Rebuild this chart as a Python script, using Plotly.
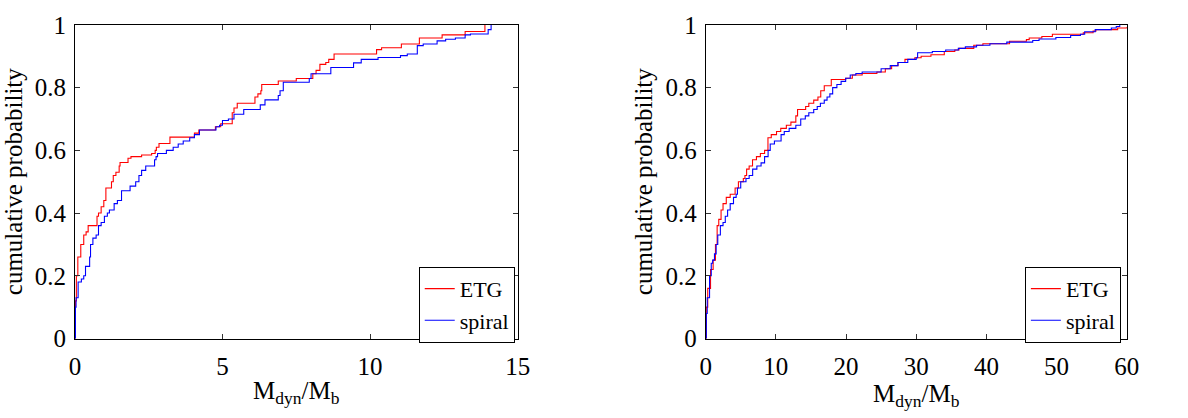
import plotly.graph_objects as go

# ---------------- data ----------------
# Left panel: cumulative probability of M_dyn/M_b (step curves, x = step position, y = level after step)
left_etg_x = [0, 0.02, 0.05, 0.1, 0.2, 0.3, 0.38, 0.45, 0.75, 0.8, 0.89, 0.98, 1.05, 1.24, 1.3, 1.39, 1.5,
              1.53, 1.8, 1.9, 2.26, 2.6, 2.72, 2.76, 2.85, 3.22, 4.05, 4.2, 4.76, 4.94, 5.33, 5.39, 5.5,
              6.1, 6.2, 6.3, 6.33, 6.89, 7.5, 8.06, 8.17, 8.3, 8.5, 8.6, 8.78, 10.22, 10.39, 11.06,
              11.67, 12.44, 13.22, 13.89]
left_etg_y = [0, 0.12, 0.2, 0.26, 0.3, 0.33, 0.34, 0.36, 0.39, 0.40, 0.42, 0.44, 0.48, 0.50, 0.52, 0.53, 0.55,
              0.561, 0.575, 0.58, 0.585, 0.59, 0.60, 0.61, 0.622, 0.642, 0.655, 0.665, 0.675, 0.685, 0.72, 0.735, 0.75,
              0.77, 0.78, 0.79, 0.81, 0.821, 0.829, 0.844, 0.855, 0.874, 0.88, 0.89, 0.907, 0.921, 0.927, 0.939,
              0.958, 0.968, 0.979, 1.0]

left_spiral_x = [0, 0.02, 0.04, 0.11, 0.22, 0.3, 0.36, 0.5, 0.53, 0.61, 0.72, 0.8, 0.89, 1.0, 1.1, 1.17, 1.33,
                 1.44, 1.58, 1.87, 2.06, 2.17, 2.26, 2.4, 2.7, 2.75, 2.8, 3.1, 3.33, 3.5, 3.67, 3.89, 4.05, 4.22,
                 4.78, 4.9, 5.0, 5.2, 5.39, 5.72, 6.28, 6.44, 6.89, 6.95, 7.06, 7.94, 8.0, 8.67, 9.44, 9.7,
                 10.27, 11.03, 11.26, 11.6, 11.8, 12.27, 12.56, 12.89, 13.22, 13.4, 14.0, 14.1]
left_spiral_y = [0, 0.1, 0.13, 0.18, 0.19, 0.2, 0.23, 0.26, 0.3, 0.32, 0.33, 0.36, 0.37, 0.39, 0.40, 0.41, 0.43,
                 0.44, 0.471, 0.486, 0.50, 0.52, 0.536, 0.55, 0.57, 0.58, 0.59, 0.60, 0.61, 0.62, 0.63, 0.64, 0.65, 0.665,
                 0.675, 0.68, 0.695, 0.70, 0.715, 0.73, 0.745, 0.761, 0.775, 0.79, 0.817, 0.829, 0.844, 0.864, 0.879, 0.89,
                 0.896, 0.902, 0.907, 0.934, 0.939, 0.949, 0.954, 0.958, 0.968, 0.971, 0.985, 1.0]

# Right panel
right_etg_x = [0, 0.1, 0.3, 0.7, 1.07, 1.4, 1.64, 1.87, 2.2, 2.48, 2.94, 3.5, 4.2, 4.67, 5.37, 5.6, 5.84, 6.2,
               6.68, 7.24, 7.8, 8.4, 8.88, 9.35, 10.1, 10.7, 11.5, 12.15, 12.85, 13.1, 14.25, 14.7, 15.4, 16.0,
               16.4, 16.9, 17.9, 19.95, 20.9, 22.3, 24.4, 25.6, 26.5, 27.4, 28.4, 29.8, 30.7, 32.1, 34.0, 35.5,
               36.1, 38.2, 39.5, 43.3, 45.7, 46.1, 47.9, 49.4, 53.8, 55.2, 55.6, 58.7, 60]
right_etg_y = [0, 0.1, 0.16, 0.22, 0.25, 0.30, 0.36, 0.38, 0.41, 0.43, 0.45, 0.46, 0.48, 0.50, 0.51, 0.52, 0.54, 0.55,
               0.57, 0.58, 0.59, 0.60, 0.64, 0.65, 0.66, 0.67, 0.68, 0.69, 0.71, 0.73, 0.74, 0.75, 0.76, 0.77,
               0.79, 0.806, 0.826, 0.83, 0.84, 0.845, 0.85, 0.86, 0.87, 0.88, 0.89, 0.895, 0.90, 0.905, 0.915, 0.92,
               0.925, 0.935, 0.94, 0.948, 0.953, 0.958, 0.963, 0.97, 0.975, 0.98, 0.985, 0.99, 0.993]

right_spiral_x = [0, 0.1, 0.23, 0.56, 0.8, 1.0, 1.26, 1.5, 1.73, 2.1, 2.48, 2.8, 3.13, 3.5, 3.97, 4.35, 4.53, 5.0,
                  5.75, 6.2, 6.7, 7.3, 7.9, 8.4, 8.9, 9.2, 9.8, 10.75, 11.2, 11.9, 12.85, 13.55, 14.2, 14.7, 15.4,
                  15.9, 16.35, 16.9, 17.3, 17.7, 18.1, 18.7, 19.3, 19.95, 20.6, 21.4, 22.3, 25.0, 26.3, 27.4, 28.8,
                  30.0, 30.2, 32.3, 34.2, 36.0, 37.0, 38.6, 40.5, 42.9, 46.6, 47.5, 49.9, 52.0, 53.4, 54.0, 55.5,
                  57.8, 58.5, 59.0]
right_spiral_y = [0, 0.08, 0.13, 0.2, 0.24, 0.25, 0.27, 0.30, 0.33, 0.36, 0.37, 0.39, 0.41, 0.43, 0.45, 0.46, 0.48, 0.50,
                  0.51, 0.52, 0.54, 0.55, 0.56, 0.58, 0.60, 0.62, 0.63, 0.65, 0.66, 0.67, 0.68, 0.70, 0.71, 0.72, 0.73,
                  0.74, 0.75, 0.76, 0.77, 0.78, 0.80, 0.81, 0.82, 0.83, 0.84, 0.845, 0.85, 0.86, 0.87, 0.88, 0.89,
                  0.895, 0.911, 0.915, 0.92, 0.925, 0.93, 0.935, 0.94, 0.945, 0.95, 0.955, 0.96, 0.966, 0.97, 0.978, 0.985,
                  0.99, 0.995, 1.0]

series_names = ["ETG", "spiral"]
series_colors = ["#ff0000", "#0000ff"]
y_tickvals = [0, 0.2, 0.4, 0.6, 0.8, 1]
x_title = "M<sub>dyn</sub>/M<sub>b</sub>"
y_title = "cumulative probability"

FONT = "Liberation Serif"
W, H = 1188, 418

fig = go.Figure()
panels = [
    ("x", "y", "legend", [(left_etg_x, left_etg_y), (left_spiral_x, left_spiral_y)]),
    ("x2", "y2", "legend2", [(right_etg_x, right_etg_y), (right_spiral_x, right_spiral_y)]),
]
for xa, ya, lg, data in panels:
    for (xs, ys), name, col in zip(data, series_names, series_colors):
        fig.add_trace(go.Scatter(x=xs, y=ys, mode="lines", name=name, xaxis=xa, yaxis=ya,
                                 line=dict(color=col, width=1.1, shape="hv"), legend=lg))

axis_common = dict(showline=True, linecolor="black", linewidth=1, mirror="ticks", ticks="inside",
                   ticklen=5, tickcolor="#333333", showgrid=False, zeroline=False,
                   ticklabeloverflow="allow",
                   tickfont=dict(family=FONT, size=25, color="black"))

def px_x(p):
    return p / W

def px_y(p):
    return (H - p) / H

title_font = dict(family=FONT, size=25, color="black")
legend_common = dict(xanchor="right", yanchor="middle", bgcolor="white", bordercolor="black", borderwidth=1,
                     font=dict(family=FONT, size=22, color="black"), tracegroupgap=0, itemwidth=30)

fig.update_layout(
    width=W, height=H, margin=dict(l=0, r=0, t=0, b=0),
    paper_bgcolor="white", plot_bgcolor="white",
    font=dict(family=FONT, size=24, color="black"),
    xaxis=dict(domain=[px_x(70), px_x(520)], range=[0, 15], tickvals=[0, 5, 10, 15], anchor="y",
               ticklabelstandoff=5,
               title=dict(text=x_title, font=title_font, standoff=2), **axis_common),
    yaxis=dict(domain=[px_y(348), px_y(12.7)], range=[0, 1], tickvals=y_tickvals, anchor="x",
               ticklabelstandoff=3,
               title=dict(text=y_title, font=title_font, standoff=5), **axis_common),
    xaxis2=dict(domain=[px_x(711), px_x(1139)], range=[0, 60], tickvals=[0, 10, 20, 30, 40, 50, 60], anchor="y2",
                ticklabelstandoff=5,
                title=dict(text=x_title, font=title_font, standoff=2), **axis_common),
    yaxis2=dict(domain=[px_y(348), px_y(12.7)], range=[0, 1], tickvals=y_tickvals, anchor="x2",
                ticklabelstandoff=3,
                title=dict(text=y_title, font=title_font, standoff=5), **axis_common),
    legend=dict(x=px_x(517), y=px_y(312), **legend_common),
    legend2=dict(x=px_x(1133), y=px_y(312), **legend_common),
    showlegend=True,
)

fig.write_html("out.html")
